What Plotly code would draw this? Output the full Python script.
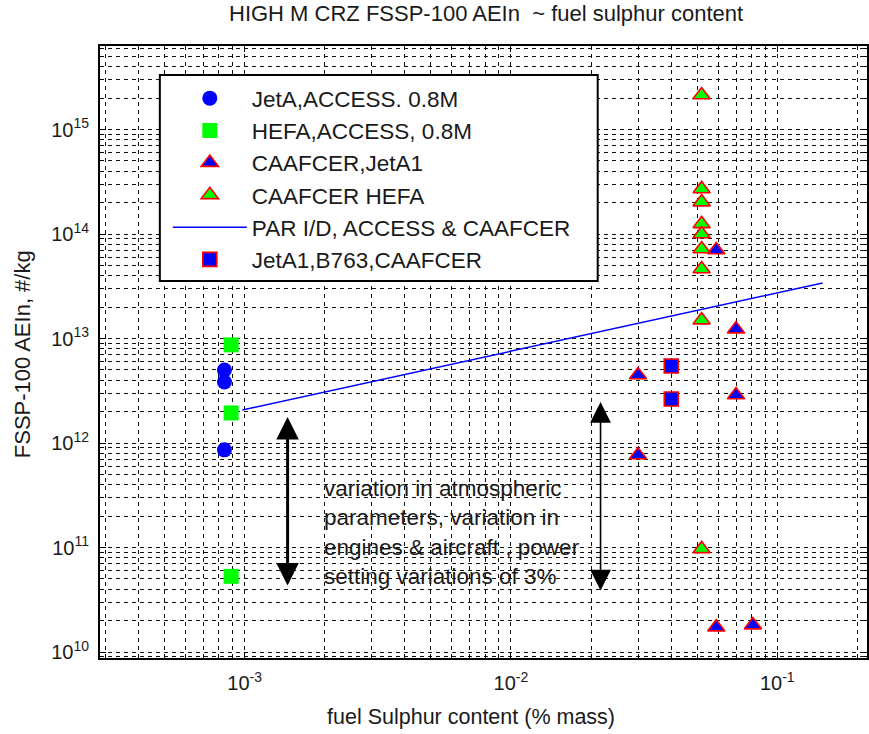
import numpy as np
import plotly.graph_objects as go

# ---------------- data ----------------
jetA_access_x = [0.00084, 0.00084, 0.00084]
jetA_access_y = [5.0e12, 3.84e12, 8.6e11]

hefa_access_x = [0.00089, 0.00089, 0.00089]
hefa_access_y = [8.7e12, 1.94e12, 5.3e10]

caafcer_jetA1_x = [0.03, 0.03, 0.059, 0.059, 0.07, 0.07, 0.081]
caafcer_jetA1_y = [4.48e12, 7.67e11, 7.03e13, 1.73e10, 1.23e13, 2.88e12, 1.81e10]

caafcer_hefa_x = [0.052, 0.052, 0.052, 0.052, 0.052, 0.052, 0.052, 0.052, 0.052]
caafcer_hefa_y = [2.14e15, 2.70e14, 2.02e14, 1.25e14, 1.0e14, 7.18e13, 4.62e13, 1.50e13, 9.7e10]

par_x = [0.00098, 0.148]
par_y = [2.07e12, 3.4e13]

b763_x = [0.04, 0.04]
b763_y = [5.46e12, 2.64e12]

series_names = ["JetA,ACCESS. 0.8M", "HEFA,ACCESS, 0.8M", "CAAFCER,JetA1",
                "CAAFCER HEFA", "PAR I/D, ACCESS & CAAFCER", "JetA1,B763,CAAFCER"]

x_tick_vals = [1e-3, 1e-2, 1e-1]
x_tick_text = ["10<sup>-3</sup>", "10<sup>-2</sup>", "10<sup>-1</sup>"]
y_tick_vals = [1e10, 1e11, 1e12, 1e13, 1e14, 1e15]
y_tick_text = ["10<sup>10</sup>", "10<sup>11</sup>", "10<sup>12</sup>",
               "10<sup>13</sup>", "10<sup>14</sup>", "10<sup>15</sup>"]

# variation arrows (x, y_top, y_bottom)
arrow_left = (0.00145, 1.77e12, 4.19e10)
arrow_right = (0.0217, 2.47e12, 3.75e10)

note_text = ("variation in atmospheric<br>parameters, variation in<br>"
             "engines & aircraft , power<br>setting variations of 3%")

# ---------------- figure ----------------
FONT = "Liberation Sans, Arial, sans-serif"
TXT = "#1a1a1a"
W, H = 869, 734
ML, MR, MT, MB = 100, 0, 46, 76
PW, PH = W - ML - MR, H - MT - MB


def px_x(p):
    return (p - ML) / PW


def px_y(p):
    return (H - MB - p) / PH


fig = go.Figure()
fig.add_trace(go.Scatter(x=jetA_access_x, y=jetA_access_y, mode="markers", name=series_names[0],
                         legendgroup="a",
                         marker=dict(symbol="circle", size=15, color="#0000ff", line=dict(width=0))))
fig.add_trace(go.Scatter(x=hefa_access_x, y=hefa_access_y, mode="markers", name=series_names[1],
                         legendgroup="b",
                         marker=dict(symbol="square", size=15, color="#00ff00", line=dict(width=0))))
fig.add_trace(go.Scatter(x=caafcer_jetA1_x, y=caafcer_jetA1_y, mode="markers", name=series_names[2],
                         legendgroup="c",
                         marker=dict(symbol="triangle-up", size=15, color="#0000ff",
                                     line=dict(width=1.6, color="#ff0000"))))
fig.add_trace(go.Scatter(x=caafcer_hefa_x, y=caafcer_hefa_y, mode="markers", name=series_names[3],
                         legendgroup="d",
                         marker=dict(symbol="triangle-up", size=15, color="#00ff00",
                                     line=dict(width=1.6, color="#ff0000"))))
fig.add_trace(go.Scatter(x=par_x, y=par_y, mode="lines", name=series_names[4],
                         legendgroup="e",
                         line=dict(color="#0000ff", width=1.5)))
fig.add_trace(go.Scatter(x=b763_x, y=b763_y, mode="markers", name=series_names[5],
                         legendgroup="f",
                         marker=dict(symbol="square", size=14, color="#0000ff",
                                     line=dict(width=1.6, color="#ff0000"))))

x_minor = [m * 10.0 ** e for e in range(-4, 0) for m in range(2, 10)]
y_minor = [m * 10.0 ** e for e in range(9, 16) for m in range(2, 10)]

grid_dash = "4px,4px"
axis_common = dict(
    showline=True, linecolor="black", linewidth=2, mirror="ticks",
    ticks="inside", ticklen=6, tickcolor="black", tickwidth=1,
    showgrid=True, gridcolor="#111111", gridwidth=1, griddash=grid_dash,
    zeroline=False,
    tickfont=dict(family=FONT, size=20, color=TXT),
)

fig.update_xaxes(type="log", range=[-3.543, -0.663],
                 tickmode="array", tickvals=x_tick_vals, ticktext=x_tick_text,
                 ticklabelstandoff=6,
                 minor=dict(tickmode="array", tickvals=x_minor, showgrid=True, gridcolor="#111111",
                            gridwidth=1, griddash=grid_dash, ticks="inside", ticklen=3,
                            tickcolor="black"),
                 **axis_common)
fig.update_yaxes(type="log", range=[9.943, 15.799],
                 tickmode="array", tickvals=y_tick_vals, ticktext=y_tick_text,
                 ticklabelstandoff=5,
                 minor=dict(tickmode="array", tickvals=y_minor, showgrid=True, gridcolor="#111111",
                            gridwidth=1, griddash=grid_dash, ticks="inside", ticklen=3,
                            tickcolor="black"),
                 **axis_common)

# legend box (white, framed)
fig.add_shape(type="rect", xref="paper", yref="paper",
              x0=px_x(160), x1=px_x(599), y0=px_y(281), y1=px_y(75),
              line=dict(color="black", width=2), fillcolor="white", layer="above")

annotations = []
# title
annotations.append(dict(text="HIGH M CRZ FSSP-100 AEIn  ~ fuel sulphur content",
                        xref="paper", yref="paper", x=px_x(487), y=px_y(14),
                        xanchor="center", yanchor="middle", showarrow=False,
                        font=dict(family=FONT, size=22, color=TXT)))
# axis titles
annotations.append(dict(text="fuel Sulphur content (% mass)", xref="paper", yref="paper",
                        x=px_x(472), y=px_y(717), xanchor="center", yanchor="middle",
                        showarrow=False, font=dict(family=FONT, size=21.5, color=TXT)))
annotations.append(dict(text="FSSP-100 AEIn, #/kg", xref="paper", yref="paper",
                        x=px_x(22), y=px_y(354), xanchor="center", yanchor="middle",
                        textangle=-90, showarrow=False,
                        font=dict(family=FONT, size=22, color=TXT)))
# note
annotations.append(dict(text=note_text, xref="paper", yref="paper",
                        x=px_x(323), y=px_y(532), xanchor="left", yanchor="middle",
                        align="left", showarrow=False,
                        font=dict(family=FONT, size=22.5, color=TXT)))
# double-headed arrows
for (ax_x, y_top, y_bot), wdt, sz in [(arrow_left, 3, 1.5), (arrow_right, 1.6, 2.6)]:
    annotations.append(dict(text="", x=np.log10(ax_x), y=np.log10(y_top),
                            ax=np.log10(ax_x), ay=np.log10(y_bot),
                            xref="x", yref="y", axref="x", ayref="y",
                            showarrow=True, arrowside="end+start",
                            arrowhead=2, startarrowhead=2,
                            arrowsize=sz, startarrowsize=sz,
                            arrowwidth=wdt, arrowcolor="black",
                            standoff=0, startstandoff=0))

fig.update_layout(
    width=W, height=H,
    margin=dict(l=ML, r=MR, t=MT, b=MB),
    paper_bgcolor="white", plot_bgcolor="white",
    font=dict(family=FONT, size=20, color=TXT),
    annotations=annotations,
    showlegend=True,
    legend=dict(x=px_x(168), y=px_y(77), xanchor="left", yanchor="top",
                bgcolor="rgba(0,0,0,0)", borderwidth=0,
                font=dict(family=FONT, size=22.5, color=TXT),
                itemwidth=74, traceorder="grouped", tracegroupgap=0),
)

fig.write_html("out.html")
